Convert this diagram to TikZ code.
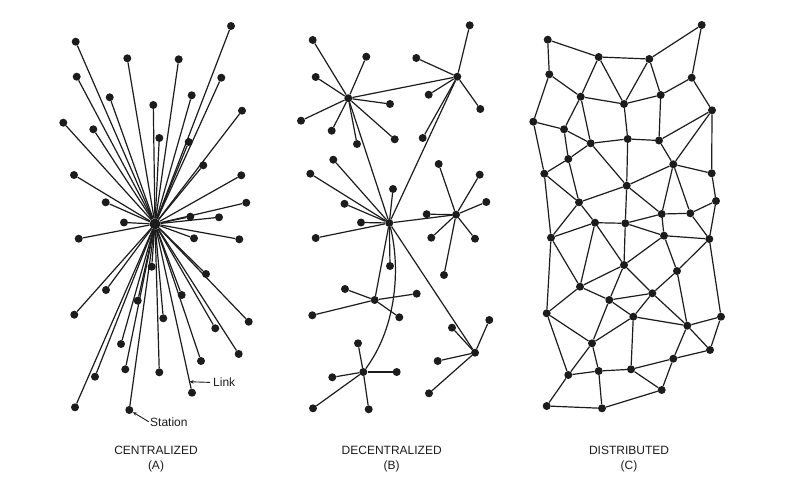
\documentclass[tikz,border=0pt]{standalone}
\usepackage{fontspec}
\setmainfont{Liberation Sans}
\usetikzlibrary{calc,arrows.meta}
\definecolor{ink}{HTML}{1C1C1C}
\begin{document}
\begin{tikzpicture}[x=1pt,y=-1pt,
  dot/.style={circle,fill=ink,inner sep=0pt,minimum size=8pt},
  hubdot/.style={circle,fill=ink,inner sep=0pt,minimum size=11pt},
  link/.style={draw=ink,line width=1.2pt},
  ptr/.style={draw=ink,line width=0.9pt,-{Stealth[length=4pt,width=3.5pt]}},
  lbl/.style={font=\fontsize{12}{14}\selectfont,text=ink,inner sep=0pt},
  capt/.style={font=\fontsize{12}{15}\selectfont,text=ink,align=center,inner sep=0pt}]
\useasboundingbox[fill=white] (0,0) rectangle (803,497);

% ---------------- (A) centralized ----------------
\node[hubdot] (A0) at (155,224) {};
\foreach \x/\y [count=\i] in {75.7/41.7, 231/26, 127.3/58.3, 178.7/59.3, 76.7/76.7,
  221.3/77.7, 109.7/97.3, 153.3/105, 191.7/95.3, 242/110.7, 63.3/122.7, 93.3/129.3,
  159.3/138, 188.7/142, 203.3/165.3, 74/175, 241.3/175.3, 105.7/202.3, 246.3/202.7,
  124/222.5, 190.3/216.7, 219/217.3, 78.7/238.7, 194/238.3, 239.3/239.3, 151.7/266.7,
  206/274, 106/290, 137.7/300.7, 181.7/295, 74.3/314.7, 163.3/318.3, 248.7/321.7,
  215.3/328.3, 121/344, 238.7/354, 201/361, 125.3/369.3, 159.3/372.3, 95/376.7,
  75/407.3}
{
  \node[dot] (A\i) at (\x,\y) {};
  \draw[link] (A0) -- (A\i);
}
\node[dot] (Alink) at (192,392.7) {};
\draw[link] (A0) -- (Alink);
\node[dot] (Astat) at (129.3,410) {};
\draw[link] (A0) -- (Astat);
\coordinate (linkpt) at ($(A0)!0.935!(Alink)$);
\node[lbl,anchor=west] (linktxt) at (213,382.5) {Link};
\draw[ptr,shorten <=3pt] (linktxt.west) -- (linkpt);
\node[lbl,anchor=west] (stattxt) at (150,422.5) {Station};
\draw[ptr,shorten <=1.5pt] (stattxt.west) -- (Astat);
\node[capt] (capA) at (156,459.3) {CENTRALIZED\\(A)};

% ---------------- (B) decentralized ----------------
\node[dot] (H1) at (348.3,98.3) {};
\node[dot] (H2) at (457.3,76.7) {};
\node[dot] (H3) at (389.3,223) {};
\node[dot] (H4) at (456,214.7) {};
\node[dot] (H5) at (374.7,300) {};
\node[dot] (H6) at (363.3,372) {};
\node[dot] (H7) at (475,352.7) {};
\foreach \h/\list in {
  H1/{312.7/40, 366.3/56.7, 315.7/77, 390/104, 301/120.7, 331.7/130.7, 357/144, 394.7/139.3},
  H2/{469.7/25.3, 416.3/58, 428.7/94.7, 480.3/109, 422.7/138},
  H3/{333.3/159.7, 310.3/173.7, 393/189, 344.5/203.8, 361/222.5, 315.7/238, 390/266},
  H4/{438.7/164, 479.7/174.7, 486.3/202, 426.7/214.2, 431.3/237.7, 475/238.7, 444/275},
  H5/{345/289, 416.7/293.7, 312.3/315.3, 399.3/317.3},
  H6/{358/343.3, 332.3/377.3, 396.7/372, 313/408.3, 368.7/409.3},
  H7/{489.3/320, 452/327.7, 437.7/361, 429/393.3}}
{
  \foreach \x/\y [count=\j] in \list {
    \node[dot] (\h s\j) at (\x,\y) {};
    \draw[link] (\h) -- (\h s\j);
  }
}
\draw[link] (H1) -- (H2);
\draw[link] (H1) -- (H3);
\draw[link] (H2) -- (H3);
\draw[link] (H3) -- (H4);
\draw[link] (H3) -- (H5);
\draw[link] (H3) -- (H7);
\draw[link] (H3) .. controls (400,265) and (398,325) .. (H6);
\node[capt] (capB) at (391.7,459.3) {DECENTRALIZED\\(B)};

% ---------------- (C) distributed ----------------
\foreach \n/\x/\y in {
  a1/547.7/39.7, a2/701.7/25, a3/598.7/57, a4/649.3/59, a5/549.3/74.3,
  a6/691.7/77.7, a7/580.7/96.7, a8/624/104, a9/660.7/95, a10/712/110.3,
  a11/533.3/121.7, a12/564/129.3, a13/590.7/143.3, a14/627.7/139, a15/659/140.5,
  b1/568.3/159, b2/544.3/173.7, b3/673.3/164.3, b4/711.7/173.3, b5/626.7/185.7,
  b6/579/202.3, b7/716/201, b8/661.7/214, b9/690.3/213.3, b10/595/222.7,
  b11/625.3/223.3, b12/551/237.7, b13/664/235.7, b14/709.3/239, b15/624/265,
  b16/677/271, c1/580/286.7, c2/609.3/300, c3/652.3/293.3, c4/546.7/313.3,
  c5/633.3/316.7, c6/687.3/325.7, c7/721/316.7, c8/592/343.3, c9/710/350,
  c10/673.3/358.7, c11/568.3/375, c12/598.7/371, c13/631/369.3, c14/661.7/390,
  c15/546.7/406, c16/602/408.3}
{ \node[dot] (\n) at (\x,\y) {}; }
\foreach \u/\v in {
  a1/a3, a3/a4, a4/a2, a2/a6, a1/a5, a5/a7, a5/a11, a3/a7, a3/a8, a4/a8, a4/a9,
  a6/a9, a6/a10, a7/a8, a8/a9, a7/a12, a7/a13, a11/a12, a12/a13, a13/a14, a14/a15,
  a8/a14, a9/a15, a10/a15, a10/b3, a10/b4, a11/b2, a12/b1, a13/b1, a13/b5, a14/b5,
  a15/b3, b1/b2, b1/b6, b3/b4, b3/b5, b3/b8, b3/b9, b4/b7, b7/b9, b7/b14, b2/b6,
  b2/b12, b6/b5, b6/b10, b6/b12, b5/b11, b5/b8, b10/b11, b11/b8, b8/b9, b8/b13,
  b9/b14, b10/b12, b10/b15, b11/b13, b11/b15, b13/b14, b13/b15, b13/b16, b14/b16,
  b12/c1, b12/c4, b10/c1, b15/c1, b15/c2, b15/c3, b16/c3, b16/c6, b14/c7,
  c1/c2, c1/c4, c2/c3, c2/c5, c2/c8, c3/c5, c3/c6, c5/c6, c5/c8, c5/c13, c6/c7,
  c6/c9, c6/c10, c7/c9, c4/c8, c4/c11, c8/c11, c8/c12, c11/c12, c11/c15, c12/c13,
  c12/c16, c13/c10, c9/c10, c13/c14, c10/c14, c14/c16, c15/c16}
{ \draw[link] (\u) -- (\v); }
\node[capt] (capC) at (629,459.3) {DISTRIBUTED\\(C)};
\end{tikzpicture}
\end{document}
